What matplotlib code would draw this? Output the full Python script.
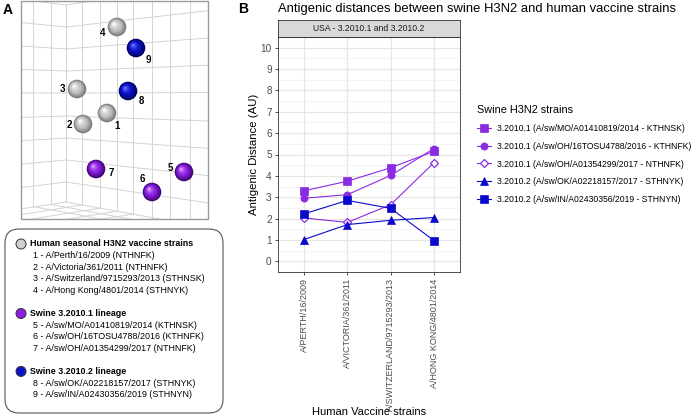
import numpy as np
import matplotlib
matplotlib.use("Agg")
import matplotlib.pyplot as plt
from matplotlib.patches import Circle, FancyBboxPatch, Rectangle

plt.rcParams['font.family'] = ['Liberation Sans', 'DejaVu Sans']

# ---------------- data ----------------
vaccine_strains = ["A/PERTH/16/2009", "A/VICTORIA/361/2011",
                   "A/SWITZERLAND/9715293/2013", "A/HONG KONG/4801/2014"]
series_labels = [
    "3.2010.1 (A/sw/MO/A01410819/2014 - KTHNSK)",
    "3.2010.1 (A/sw/OH/16TOSU4788/2016 - KTHNFK)",
    "3.2010.1 (A/sw/OH/A01354299/2017 - NTHNFK)",
    "3.2010.2 (A/sw/OK/A02218157/2017 - STHNYK)",
    "3.2010.2 (A/sw/IN/A02430356/2019 - STHNYN)",
]
mo_2014 = [3.30, 3.75, 4.38, 5.15]
oh_2016 = [2.95, 3.12, 4.02, 5.28]
oh_2017 = [2.03, 1.82, 2.65, 4.62]
ok_2017 = [1.02, 1.72, 1.92, 2.05]
in_2019 = [2.22, 2.85, 2.48, 0.97]
series_values = [mo_2014, oh_2016, oh_2017, ok_2017, in_2019]

# panel A: projected positions of the strains in the 3D antigenic map
map_ids = ["1", "2", "3", "4", "5", "6", "7", "8", "9"]
map_x = [107, 83, 77, 117, 184, 152, 96, 128, 136]
map_y = [113, 124, 89, 27, 172, 192, 169, 91, 48]
map_group = ["human", "human", "human", "human", "sw1", "sw1", "sw1", "sw2", "sw2"]
label_dx = [10, -14, -15, -14, -14, -10, 15, 13, 12]
label_dy = [13, 1, 0, 6, -4, -13, 4, 10, 12]

legend_groups = [
    ("Human seasonal H3N2 vaccine strains", "human",
     ["1 - A/Perth/16/2009 (NTHNFK)", "2 - A/Victoria/361/2011 (NTHNFK)",
      "3 - A/Switzerland/9715293/2013 (STHNSK)", "4 - A/Hong Kong/4801/2014 (STHNYK)"]),
    ("Swine 3.2010.1 lineage", "sw1",
     ["5 - A/sw/MO/A01410819/2014 (KTHNSK)", "6 - A/sw/OH/16TOSU4788/2016 (KTHNFK)",
      "7 - A/sw/OH/A01354299/2017 (NTHNFK)"]),
    ("Swine 3.2010.2 lineage", "sw2",
     ["8 - A/sw/OK/A02218157/2017 (STHNYK)", "9 - A/sw/IN/A02430356/2019 (STHNYN)"]),
]

PURPLE = "#8a2be2"
BLUE = "#0a0acd"
sphere_cols = {
    "human": ("#7a7a7a", "#c4c4c4", "#ffffff"),
    "sw1": ("#3d0670", "#8a1ee0", "#e0a0ff"),
    "sw2": ("#00005a", "#0a12c8", "#7070ff"),
}
dot_cols = {"human": "#cfcfcf", "sw1": "#8a1ee0", "sw2": "#0a12c8"}

W, H = 696, 418
fig = plt.figure(figsize=(W / 100, H / 100), dpi=100)

# ---------------- panel A ----------------
axA = fig.add_axes([0, 0, 230 / W, 1])
axA.set_xlim(0, 230)
axA.set_ylim(H, 0)
axA.axis("off")

fl, fr, ft, fb = 21, 208, 1, 219
cx, hz, floor_c = 66, 95, 202
frame = Rectangle((fl, ft), fr - fl, fb - ft, fill=False, ec="#9a9a9a", lw=1.0, zorder=3)
axA.add_patch(frame)
clip = Rectangle((fl, ft), fr - fl, fb - ft, transform=axA.transData, visible=False)
axA.add_patch(clip)
gcol, glw = "#d4d4d4", 0.7
kr, kl = 0.24, 0.065
def yr(yc, x):
    return yc + (yc - hz) * kr * (x - cx) / (fr - cx)
def yl(yc, x):
    return yc + (yc - hz) * kl * (cx - x) / (cx - fl)
lines = []
for yc in [5, 27, 49, 71, 93, 116, 138, 160, 182, floor_c]:
    lines.append(([cx, fr], [yc, yr(yc, fr)]))
    lines.append(([fl, cx], [yl(yc, fl), yc]))
for x in [82, 100, 117, 133, 152, 170, 190]:
    lines.append(([x, x], [yr(5, x), yr(floor_c, x)]))
for x in [33, 51]:
    lines.append(([x, x], [yl(5, x), yl(floor_c, x)]))
lines.append(([cx, cx], [5, floor_c]))
# floor grid (compressed perspective)
bdx, bdy = 87, 16     # direction of back floor edge
ldx, ldy = -44, 7     # direction of left floor edge
for s in [0.35, 0.7]:
    x0, y0 = cx + ldx * s, floor_c + ldy * s
    lines.append(([x0, x0 + bdx * 2.5], [y0, y0 + bdy * 2.5]))
for x0 in [82, 100, 117, 133]:
    y0 = yr(floor_c, x0)
    lines.append(([x0, x0 + ldx * 2.5], [y0, y0 + ldy * 2.5]))
for xs, ys in lines:
    ln, = axA.plot(xs, ys, color=gcol, lw=glw, zorder=1)
    ln.set_clip_path(clip)

def sphere(ax, x, y, cols, r=9.3):
    edge, mid, hi = [np.array(matplotlib.colors.to_rgb(c)) for c in cols]
    n = 14
    for i in range(n):
        t = i / (n - 1)
        if t < 0.45:
            c = edge + (mid - edge) * (t / 0.45)
        else:
            c = mid + (hi - mid) * ((t - 0.45) / 0.55) ** 1.6
        rr = r * (1 - 0.9 * t)
        ax.add_patch(Circle((x - 0.32 * r * t, y - 0.32 * r * t), rr,
                            color=c, lw=0, zorder=4))

for i in range(len(map_ids)):
    sphere(axA, map_x[i], map_y[i], sphere_cols[map_group[i]])
    axA.text(map_x[i] + label_dx[i], map_y[i] + label_dy[i], map_ids[i],
             fontsize=7, fontweight="bold", ha="center", va="center", zorder=5)

axA.text(3, 10, "A", fontsize=10, fontweight="bold", ha="left", va="center")

box = FancyBboxPatch((5, 229), 218, 184, boxstyle="round,pad=0,rounding_size=14",
                     fc="white", ec="#555555", lw=0.8, zorder=2)
axA.add_patch(box)
ypos = 244
for title, g, items in legend_groups:
    axA.add_patch(Circle((21, ypos), 5, fc=dot_cols[g], ec="#333333", lw=0.7, zorder=3))
    axA.text(30, ypos, title, fontsize=6.4, fontweight="bold", ha="left", va="center", zorder=3)
    ypos += 11.6
    for it in items:
        axA.text(33, ypos, it, fontsize=6.4, ha="left", va="center", zorder=3)
        ypos += 11.6
    ypos += 11.5

# ---------------- panel B ----------------
l, r, t, b = 278, 460, 37, 272
axB = fig.add_axes([l / W, (H - b) / H, (r - l) / W, (b - t) / H])
xs = np.arange(1, len(vaccine_strains) + 1)
markers = [("s", True, PURPLE), ("o", True, PURPLE), ("D", False, PURPLE),
           ("^", True, BLUE), ("s", True, BLUE)]
handles = []
for vals, lab, (m, filled, col) in zip(series_values, series_labels, markers):
    ms = 4.2 if m == "D" else 5.2
    h, = axB.plot(xs, vals, color=col, lw=0.8, marker=m, ms=ms,
                  mfc=col if filled else "white", mec=col, mew=0.9 if not filled else 0.5,
                  label=lab, zorder=3)
    handles.append(h)
axB.set_xlim(0.4, 4.6)
axB.set_ylim(-0.5, 10.5)
axB.set_yticks(range(0, 11))
axB.set_yticks(np.arange(-0.5, 10.6, 1.0), minor=True)
axB.set_xticks(xs)
axB.set_xticklabels(vaccine_strains, rotation=90, fontsize=6.5, color="#4d4d4d")
axB.tick_params(axis="y", labelsize=7.2, labelcolor="#4d4d4d", length=2.5,
                color="#333333", width=0.6, pad=2)
axB.tick_params(axis="x", length=2.5, color="#333333", width=0.6, pad=2)
axB.tick_params(which="minor", length=0)
axB.grid(True, which="major", color="#e6e6e6", lw=0.9, zorder=0)
axB.grid(True, which="minor", axis="y", color="#f0f0f0", lw=0.5, zorder=0)
axB.set_axisbelow(True)
for s in axB.spines.values():
    s.set_color("#333333")
    s.set_linewidth(0.6)
axB.set_ylabel("Antigenic Distance (AU)", fontsize=8.2, va="center")
axB.yaxis.set_label_coords((254 - l) / (r - l), 0.5)
axB.set_xlabel("Human Vaccine strains", fontsize=8, va="center")
axB.xaxis.set_label_coords(0.5, (b - 412) / (b - t))

strip = fig.add_axes([l / W, (H - t) / H, (r - l) / W, 17 / H])
strip.set_facecolor("#d9d9d9")
strip.set_xticks([]); strip.set_yticks([])
for s in strip.spines.values():
    s.set_color("#333333"); s.set_linewidth(0.6)
strip.text(0.5, 0.5, "USA - 3.2010.1 and 3.2010.2", fontsize=6.2, color="#1a1a1a",
           ha="center", va="center", transform=strip.transAxes)

fig.text(238 / W, 1 - 9 / H, "B", fontsize=10, fontweight="bold", ha="left", va="center")
fig.text(278 / W, 1 - 9 / H, "Antigenic distances between swine H3N2 and human vaccine strains",
         fontsize=9.4, ha="left", va="center")

leg = fig.legend(handles=handles, loc="upper left", bbox_to_anchor=(474 / W, 1 - 102 / H),
                 frameon=False, fontsize=6.25, title="Swine H3N2 strains",
                 title_fontsize=7.8, handlelength=1.6, labelspacing=1.0,
                 handletextpad=0.7, borderaxespad=0)
leg._legend_box.align = "left"

fig.savefig("out.png", dpi=100)
